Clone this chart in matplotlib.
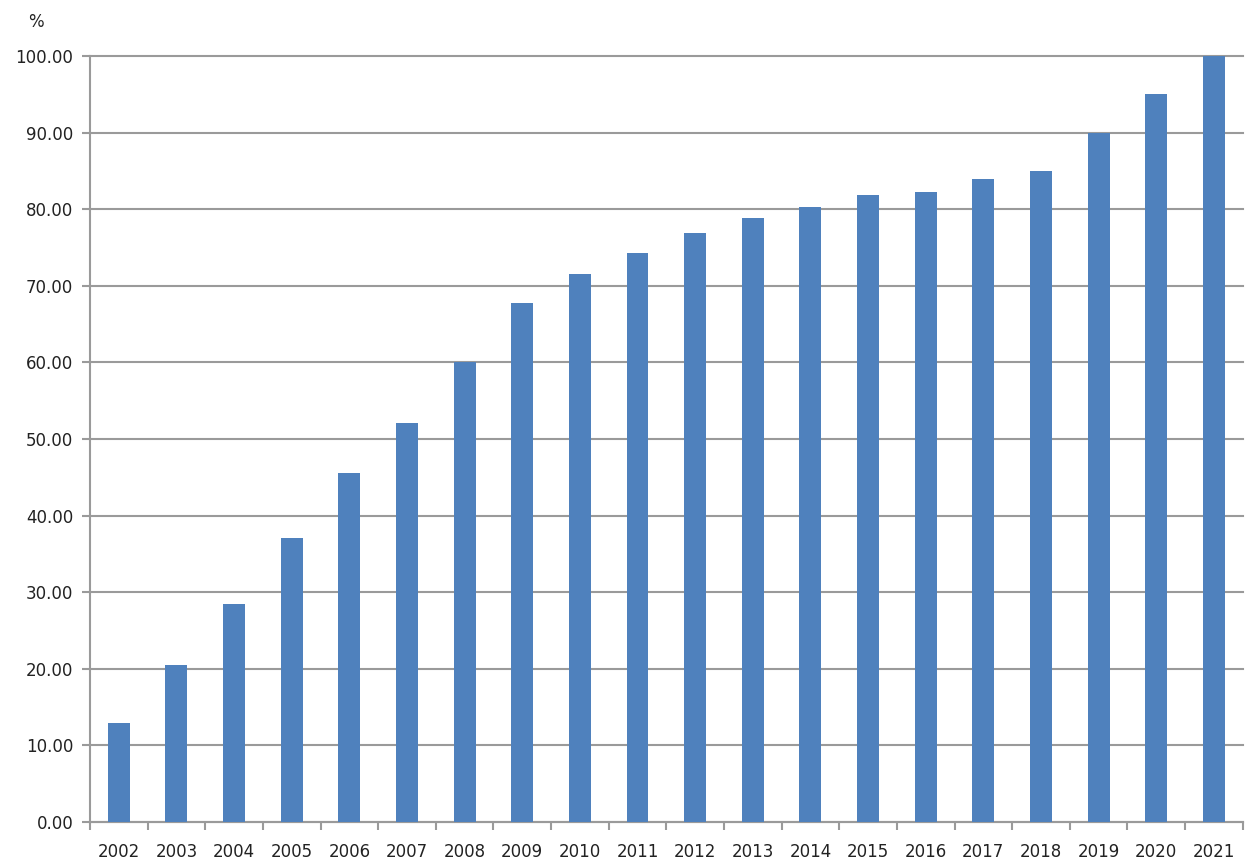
import numpy as np
import matplotlib.pyplot as plt
from matplotlib.ticker import FixedLocator, FormatStrFormatter

years = [str(y) for y in range(2002, 2022)]
values = [12.9, 20.5, 28.4, 37.1, 45.6, 52.1, 60.0, 67.8, 71.6, 74.3,
          76.9, 78.8, 80.3, 81.8, 82.3, 84.0, 85.0, 90.0, 95.0, 100.0]

bar_color = '#4F81BD'
axis_color = '#9A9A9A'

fig = plt.figure(figsize=(12.55, 8.68), dpi=100)
ax = fig.add_axes([0.0717, 0.053, 0.9185, 0.8825])

x = np.arange(len(years))
ax.bar(x, values, width=0.38, color=bar_color, zorder=3)

ax.set_xlim(-0.5, len(years) - 0.5)
ax.set_ylim(0, 100)
ax.set_yticks(np.arange(0, 101, 10))
ax.yaxis.set_major_formatter(FormatStrFormatter('%.2f'))
ax.grid(axis='y', color=axis_color, linewidth=1.5, zorder=0)
for gl in ax.get_ygridlines():
    gl.set_clip_on(False)

ax.set_xticks(x)
ax.set_xticklabels(years)
ax.xaxis.set_minor_locator(FixedLocator(np.arange(-0.5, len(years), 1)))
ax.tick_params(axis='x', which='major', length=0, pad=15, labelsize=12, colors='#222222')
ax.tick_params(axis='x', which='minor', length=6, width=1.5, color=axis_color)
ax.tick_params(axis='y', length=6, width=1.5, color=axis_color, pad=6,
               labelsize=12, labelcolor='#222222')

for s in ['top', 'right']:
    ax.spines[s].set_visible(False)
for s in ['left', 'bottom']:
    ax.spines[s].set_color(axis_color)
    ax.spines[s].set_linewidth(1.5)

fig.text(0.029, 0.975, '%', fontsize=12, color='#222222', va='center', ha='center')

fig.savefig('out.png', dpi=100)
